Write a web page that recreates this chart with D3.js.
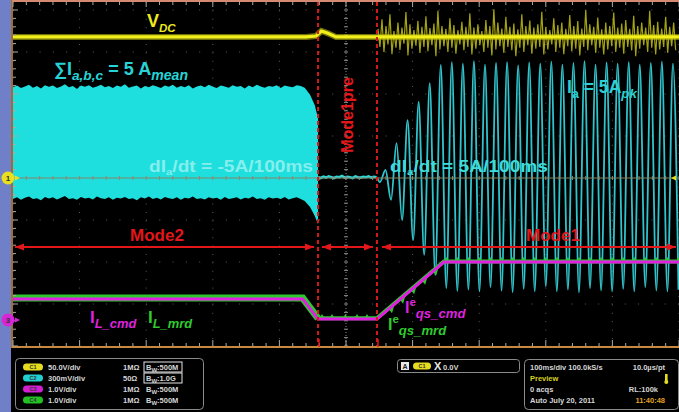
<!DOCTYPE html>
<html><head><meta charset="utf-8">
<script src="https://cdn.jsdelivr.net/npm/d3@7"></script>
<style>
html,body{margin:0;padding:0;background:#000;}
svg{display:block;}
text{font-family:"Liberation Sans",Arial,sans-serif;}
</style></head><body>
<svg id="scope" width="679" height="412"></svg>
<script>
// Time axis: ms across the screen, 100 ms/div, 10 divisions.
// Vertical axis: screen divisions, 0 at the centre graticule line.
const modeNames = ["Mode2", "Mode1pre", "Mode1"];
const modeBounds = [0, 458, 546.5, 1000];

// Ch1: DC-link voltage
const vdcTimes  = [0, 440, 455, 463, 472, 485, 546.5, 1000];
const vdcLevels = [3.36, 3.36, 3.38, 3.5, 3.45, 3.36, 3.36, 3.36];
const vdcNoiseStart = 548, vdcNoiseStep = 6;
const vdcNoiseHi = [3.55,3.78,3.62,3.9,3.5,3.7,3.58,3.95,3.66,3.52,3.74,3.6,3.85,3.57,3.68,3.98,3.62,3.55,3.8,3.64,3.52,3.72,3.6,3.92,3.58,3.66,3.5,3.76,3.62,4.02,3.7,3.56,3.84,3.6,3.68,3.54,3.9,3.62,3.75,3.58,3.66,3.96,3.6,3.52,3.8,3.64,3.7,3.55,3.88,3.62,3.74,3.56,4.0,3.66,3.6,3.82,3.54,3.7,3.62,3.94,3.58,3.68,3.76,3.55,3.86,3.62,3.7,3.58,3.98,3.64,3.72,3.56,3.84,3.6,3.7];
const vdcNoiseLo = [3.12,3.0,3.18,2.95,3.1,3.05,3.2,2.92,3.08,3.15,2.98,3.12,3.02,3.16,2.9,3.06,3.14,3.0,3.1,2.96,3.18,3.04,3.12,2.94,3.08,3.16,3.0,3.1,2.92,3.06,3.14,2.98,3.12,3.04,2.9,3.1,3.0,3.16,2.96,3.08,3.12,2.94,3.06,3.18,3.0,3.1,2.95,3.14,3.02,3.08,2.92,3.12,3.04,3.16,2.98,3.1,2.94,3.06,3.14,3.0,3.1,2.96,3.12,3.04,2.9,3.08,3.16,3.0,3.1,2.94,3.06,3.12,2.98,3.14,3.04];

// Ch2: phase current, Mode2 envelope (top / bottom of the dense waveform)
const bandStep = 6;
const bandTop = [2.16,2.2,2.14,2.18,2.22,2.15,2.19,2.13,2.21,2.17,2.2,2.14,2.18,2.23,2.16,2.19,2.12,2.2,2.17,2.21,2.15,2.18,2.22,2.16,2.19,2.14,2.2,2.17,2.23,2.15,2.18,2.2,2.13,2.19,2.16,2.21,2.18,2.14,2.2,2.17,2.22,2.15,2.19,2.16,2.21,2.13,2.18,2.2,2.16,2.22,2.17,2.14,2.2,2.18,2.15,2.21,2.17,2.19,2.13,2.2,2.16,2.22,2.18,2.15,2.19,2.17,2.21,2.14,2.2,2.18,2.16,2.21,2.19];
const bandBottom = [-0.5,-0.46,-0.52,-0.47,-0.44,-0.5,-0.48,-0.53,-0.45,-0.49,-0.46,-0.51,-0.47,-0.43,-0.5,-0.48,-0.52,-0.45,-0.49,-0.47,-0.51,-0.44,-0.48,-0.5,-0.46,-0.52,-0.47,-0.49,-0.45,-0.5,-0.48,-0.53,-0.46,-0.49,-0.44,-0.5,-0.47,-0.51,-0.45,-0.48,-0.5,-0.46,-0.52,-0.47,-0.49,-0.44,-0.5,-0.48,-0.51,-0.46,-0.49,-0.47,-0.52,-0.45,-0.5,-0.48,-0.46,-0.51,-0.47,-0.49,-0.44,-0.5,-0.48,-0.52,-0.46,-0.49,-0.47,-0.5,-0.45,-0.51,-0.48,-0.46,-0.5];
const taperTimes  = [438, 446, 453, 458];
const taperTop    = [2.15, 1.98, 1.74, 1.43];
const taperBottom = [-0.55, -0.69, -0.9, -1.1];

// Ch2 in Mode1pre: near-zero current
const preStart = 458, preStep = 4;
const preLevels = [0.02,0.0,0.03,0.01,0.04,0.02,0.0,0.03,0.02,0.05,0.01,0.03,0.02,0.0,0.04,0.02,0.01,0.03,0.02,0.04,0.01,0.03,0.02];

// Ch2 in Mode1: successive extremes of the 60 Hz current
const sineStart = 551, sineHalfPeriod = 8.3;
const sineExtremes = [-0.1,0.19,-0.52,0.83,-1.0,1.38,-1.48,1.81,-1.83,2.26,-2.31,2.69,-2.62,2.76,-2.69,2.72,-2.66,2.78,-2.7,2.7,-2.6,2.74,-2.68,2.76,-2.72,2.68,-2.64,2.75,-2.7,2.72,-2.58,2.77,-2.7,2.7,-2.66,2.74,-2.72,2.78,-2.62,2.7,-2.68,2.75,-2.7,2.72,-2.64,2.76,-2.7,2.7,-2.6,2.74,-2.68,2.77,-2.7,2.72,-2.66];

// Ch3 / Ch4: inductor-current command and measurement
const ilTimes = [0, 435, 458, 546.5, 647, 1000];
const ilCmd   = [-2.88, -2.88, -3.36, -3.36, -2.0, -2.0];
const ilMrd   = [-2.86, -2.86, -3.34, -3.34, -1.99, -1.99];
const preTeethTimes = [464, 479, 499, 516.5, 531.5];

// Graticule
const timeTicks = d3.range(0, 1001, 100);
const divTicks = d3.range(-4, 5, 1);

// Readout panel
const chanLabels = ["C1", "C2", "C3", "C4"];
const chanColors = ["#e6dc1e", "#22cfd0", "#d21fd2", "#22c222"];
const chanScales = ["50.0V/div", "300mV/div", "1.0V/div", "1.0V/div"];
const chanImped  = ["1MΩ", "50Ω", "1MΩ", "1MΩ"];
const chanBw     = ["500M", "1.0G", "500M", "500M"];

const svg = d3.select("#scope");
const x = d3.scaleLinear().domain([0, 1000]).range([13, 679]);
const y = d3.scaleLinear().domain([-4, 4]).range([346, 10]);

// background & frame strips
svg.append("rect").attr("width", 679).attr("height", 412).attr("fill", "#000");
svg.append("rect").attr("x", 0).attr("y", 0).attr("width", 11).attr("height", 412).attr("fill", "#7080c8");

// graticule dots
const grid = svg.append("g");
timeTicks.forEach(t => {
  if (t === 500) return;
  grid.append("line").attr("x1", x(t)).attr("x2", x(t)).attr("y1", 2).attr("y2", 346)
    .attr("stroke", "#5c5c5c").attr("stroke-width", 1).attr("stroke-dasharray", "1,7.4");
});
divTicks.forEach(d => {
  if (d === 0) return;
  grid.append("line").attr("x1", 13).attr("x2", 679).attr("y1", y(d)).attr("y2", y(d))
    .attr("stroke", "#5c5c5c").attr("stroke-width", 1).attr("stroke-dasharray", "1,12.3");
});

// Ch2 Mode2 band
const bandPts = bandTop.map((v, i) => ({t: i * bandStep, top: v, bot: bandBottom[Math.min(i, bandBottom.length - 1)]}))
  .concat(taperTimes.map((t, i) => ({t, top: taperTop[i], bot: taperBottom[i]})));
const area = d3.area().x(d => x(d.t)).y0(d => y(d.bot)).y1(d => y(d.top));
svg.append("path").datum(bandPts).attr("d", area).attr("fill", "#1fdede");

// Ch2 Mode1pre line
const prePts = preLevels.map((v, i) => [preStart + i * preStep, v]);
const line = d3.line().x(d => x(d[0])).y(d => y(d[1]));
svg.append("path").datum(prePts).attr("d", line).attr("fill", "none")
  .attr("stroke", "#2fd6d8").attr("stroke-width", 2.6);

// Ch2 Mode1 sinusoid
const sinePts = [[546.5, 0.02]].concat(sineExtremes.map((v, i) => [sineStart + i * sineHalfPeriod, v]));
svg.append("path").datum(sinePts).attr("d", d3.line().x(d => x(d[0])).y(d => y(d[1])).curve(d3.curveMonotoneX))
  .attr("fill", "none").attr("stroke", "#30c4cc").attr("stroke-width", 1.8);

// centre graticule lines with minor ticks
const cg = svg.append("g");
cg.append("line").attr("x1", 13).attr("x2", 679).attr("y1", y(0)).attr("y2", y(0))
  .attr("stroke", "#858566").attr("stroke-width", 1);
cg.append("line").attr("x1", x(500)).attr("x2", x(500)).attr("y1", 2).attr("y2", 346)
  .attr("stroke", "#8a8a8a").attr("stroke-width", 1).attr("stroke-dasharray", "1,2");
d3.range(0, 1001, 20).forEach(t => {
  cg.append("line").attr("x1", x(t)).attr("x2", x(t)).attr("y1", y(0) - 2).attr("y2", y(0) + 2)
    .attr("stroke", "#8a8a70").attr("stroke-width", 1);
});
d3.range(-4, 4.01, 0.2).forEach(d => {
  cg.append("line").attr("x1", x(500) - 2).attr("x2", x(500) + 2).attr("y1", y(d)).attr("y2", y(d))
    .attr("stroke", "#8a8a8a").attr("stroke-width", 1);
});

// Ch1 V_DC
const vg = svg.append("g");
let nd = "";
vdcNoiseHi.forEach((h, i) => {
  const t = vdcNoiseStart + i * vdcNoiseStep;
  nd += (i ? "L" : "M") + x(t) + "," + y(h) + "L" + x(t + vdcNoiseStep / 2) + "," + y(vdcNoiseLo[i]);
});
vg.append("path").attr("d", nd).attr("fill", "none").attr("stroke", "#c2c010").attr("stroke-width", 1.2).attr("opacity", 0.85);
const vdcPts = vdcTimes.map((t, i) => [t, vdcLevels[i]]);
vg.append("path").datum(vdcPts).attr("d", line).attr("fill", "none")
  .attr("stroke", "#bdbd10").attr("stroke-width", 6).attr("opacity", 0.6);
vg.append("path").datum(vdcPts).attr("d", line).attr("fill", "none")
  .attr("stroke", "#f2ef1a").attr("stroke-width", 3.2);

// Ch4 measured inductor current (green) and Ch3 command (magenta)
const mrdPts = ilTimes.map((t, i) => [t, ilMrd[i]]);
const cmdPts = ilTimes.map((t, i) => [t, ilCmd[i]]);
svg.append("path").datum(mrdPts.slice(0, 3)).attr("d", line).attr("fill", "none")
  .attr("stroke", "#2ec82e").attr("stroke-width", 7);
svg.append("path").datum(mrdPts.slice(2)).attr("d", line).attr("fill", "none")
  .attr("stroke", "#2ec82e").attr("stroke-width", 4);
const ilAt = t => y(d3.scaleLinear().domain(ilTimes).range(ilCmd)(t));
const teeth = svg.append("g").attr("fill", "#2ec82e");
const upTooth = t => { const px = x(t), py = ilAt(t); return `M${px-3},${py}L${px},${py-5}L${px+3},${py}Z`; };
const downTooth = t => { const px = x(t), py = ilAt(t); return `M${px-3},${py+1}L${px+1},${py+6}L${px+3},${py-1}Z`; };
preTeethTimes.forEach(t => teeth.append("path").attr("d", upTooth(t)));
sineExtremes.forEach((v, i) => {
  const t = sineStart + i * sineHalfPeriod;
  if (i % 2 !== 0) return;
  if (t > 647) teeth.append("path").attr("d", upTooth(t));
  else if (t > 560) teeth.append("path").attr("d", downTooth(t));
});
svg.append("path").datum(cmdPts).attr("d", line).attr("fill", "none")
  .attr("stroke", "#e21ee2").attr("stroke-width", 3);

// mode boundaries
const red = "#e3161a";
[modeBounds[1], modeBounds[2]].forEach(t => {
  svg.append("line").attr("x1", x(t)).attr("x2", x(t)).attr("y1", 2).attr("y2", 346)
    .attr("stroke", "#d31a1a").attr("stroke-width", 2).attr("stroke-dasharray", "4,3");
});
// mode arrows
const arrowY = 247;
const ag = svg.append("g");
function arrowHead(px, dir) {
  ag.append("path").attr("d", `M${px},${arrowY}L${px - dir * 9},${arrowY - 3.5}L${px - dir * 9},${arrowY + 3.5}Z`).attr("fill", red);
}
const arrowPad = [[2, -4], [4, -4], [5, -3]];
modeNames.forEach((m, i) => {
  const a = x(modeBounds[i]) + arrowPad[i][0], b = x(modeBounds[i + 1]) + arrowPad[i][1];
  ag.append("line").attr("x1", a).attr("x2", b).attr("y1", arrowY).attr("y2", arrowY).attr("stroke", red).attr("stroke-width", 2);
  arrowHead(a, -1); arrowHead(b, 1);
});
svg.append("text").attr("x", 157).attr("y", 241).attr("text-anchor", "middle").attr("font-size", 17)
  .attr("font-weight", "bold").attr("fill", red).text(modeNames[0]);
svg.append("text").attr("x", 553).attr("y", 241).attr("text-anchor", "middle").attr("font-size", 17)
  .attr("font-weight", "bold").attr("fill", red).text(modeNames[2]);
svg.append("text").attr("transform", "translate(353,115) rotate(-90)").attr("text-anchor", "middle")
  .attr("font-size", 16).attr("font-weight", "bold").attr("fill", red).text(modeNames[1]);

// labels with sub/superscripts
function rich(px, py, size, color, parts, len) {
  const t = svg.append("text").attr("x", px).attr("y", py).attr("fill", color)
    .attr("font-size", size).attr("font-weight", "bold");
  if (len) t.attr("textLength", len).attr("lengthAdjust", "spacingAndGlyphs");
  let cur = 0;
  parts.forEach(p => {
    const off = p.sub ? size * (p.d || 0.3) : p.sup ? -size * 0.42 : 0;
    const ts = t.append("tspan").text(p.s).attr("dy", off - cur);
    if (p.sub || p.sup) ts.attr("font-size", size * (p.k || 0.68));
    if (p.it) ts.attr("font-style", "italic");
    cur = off;
  });
  return t;
}
rich(147, 27, 18, "#eeea1c", [{s: "V"}, {s: "DC", sub: 1, it: 1, k: 0.64}]);
rich(54, 75, 18, "#27d3d6", [{s: "∑I"}, {s: "a,b,c", sub: 1, it: 1, k: 0.76}, {s: " = 5 A"}, {s: "mean", sub: 1, it: 1, k: 0.78}], 134);
rich(149, 172, 16.5, "#86efee", [{s: "dI"}, {s: "a", sub: 1, d: 0.2, k: 0.6}, {s: "/dt = -5A/100ms"}], 164);
rich(390, 172, 16.5, "#3fdbdc", [{s: "dI"}, {s: "a", sub: 1, d: 0.2, k: 0.6}, {s: "/dt = 5A/100ms"}], 158);
rich(567, 93, 17.5, "#2fcfd4", [{s: "I"}, {s: "a", sub: 1, k: 0.7}, {s: " = 5A"}, {s: "pk", sub: 1, it: 1, k: 0.76}], 70);
rich(90, 323, 17, "#df22df", [{s: "I"}, {s: "L_cmd", sub: 1, it: 1, k: 0.76}]);
rich(148, 323, 17, "#2fcb2f", [{s: "I"}, {s: "L_mrd", sub: 1, it: 1, k: 0.76}]);
rich(405, 313, 16, "#df22df", [{s: "I"}, {s: "e", sup: 1, k: 0.72}, {s: "qs_cmd", sub: 1, it: 1, k: 0.82}]);
rich(388, 330, 16, "#2fcb2f", [{s: "I"}, {s: "e", sup: 1, k: 0.72}, {s: "qs_mrd", sub: 1, it: 1, k: 0.82}]);

// screen borders and ticks
const bd = svg.append("g");
bd.append("line").attr("x1", 12).attr("x2", 679).attr("y1", 1).attr("y2", 1).attr("stroke", "#d48a72").attr("stroke-width", 2);
bd.append("line").attr("x1", 12).attr("x2", 12).attr("y1", 0).attr("y2", 348).attr("stroke", "#c8883e").attr("stroke-width", 1.6);
bd.append("line").attr("x1", 12).attr("x2", 679).attr("y1", 347).attr("y2", 347).attr("stroke", "#c8883e").attr("stroke-width", 2);
d3.range(-4, 4.3, 0.2).forEach(d => {
  if (y(d) < 3) return;
  bd.append("line").attr("x1", 13).attr("x2", Math.abs(d - Math.round(d)) < 0.01 ? 18 : 16).attr("y1", y(d)).attr("y2", y(d))
    .attr("stroke", "#a9a9a9").attr("stroke-width", 1);
});
d3.range(0, 1001, 20).forEach(t => {
  const major = t % 100 === 0;
  bd.append("line").attr("x1", x(t)).attr("x2", x(t)).attr("y1", 346).attr("y2", major ? 340 : 343)
    .attr("stroke", "#a9a9a9").attr("stroke-width", 1);
  bd.append("line").attr("x1", x(t)).attr("x2", x(t)).attr("y1", 2).attr("y2", major ? 7 : 5)
    .attr("stroke", "#a9a9a9").attr("stroke-width", 1);
});
[modeBounds[1], modeBounds[2]].forEach(t => {
  bd.append("line").attr("x1", x(t) + 1).attr("x2", x(t) + 1).attr("y1", 347).attr("y2", 339)
    .attr("stroke", "#e01818").attr("stroke-width", 1.5);
});

// channel ground markers
function marker(py, color, label) {
  svg.append("circle").attr("cx", 8).attr("cy", py).attr("r", 6.5).attr("fill", color);
  svg.append("text").attr("x", 8).attr("y", py + 3).attr("text-anchor", "middle").attr("font-size", 8)
    .attr("font-weight", "bold").attr("fill", "#333").text(label);
  svg.append("path").attr("d", `M15,${py - 2.5}L20,${py}L15,${py + 2.5}Z`).attr("fill", color);
}
marker(y(0), "#e8e01e", "1");
marker(y(-3.38), "#d825d8", "3");
svg.append("path").attr("d", `M676,${y(0) - 2.5}L671,${y(0)}L676,${y(0) + 2.5}Z`).attr("fill", "#e8e01e");

// readout panel
const pn = svg.append("g").attr("font-weight", "bold").attr("font-size", 7.5).attr("fill", "#d6d6d6");
pn.append("rect").attr("x", 15.5).attr("y", 358.5).attr("width", 188).attr("height", 51).attr("rx", 4)
  .attr("fill", "#000").attr("stroke", "#8a8a8a");
chanLabels.forEach((c, i) => {
  const cy = 367 + i * 11;
  pn.append("rect").attr("x", 23).attr("y", cy - 3.5).attr("width", 20).attr("height", 7).attr("rx", 3.5).attr("fill", chanColors[i]);
  pn.append("text").attr("x", 33).attr("y", cy + 2).attr("text-anchor", "middle").attr("font-size", 5.5).attr("fill", "#333").text(c);
  pn.append("text").attr("x", 48).attr("y", cy + 3).text(chanScales[i]);
  pn.append("text").attr("x", 123).attr("y", cy + 3).text(chanImped[i]);
  if (i < 2) pn.append("rect").attr("x", 144).attr("y", cy - 5).attr("width", 38).attr("height", 10)
    .attr("fill", "#000").attr("stroke", "#e6e6e6").attr("stroke-width", 1);
  const bw = pn.append("text").attr("x", 146).attr("y", cy + 3);
  bw.append("tspan").text("B");
  bw.append("tspan").attr("font-size", 6).attr("dy", 2).text("W");
  bw.append("tspan").attr("dy", -2).text(":" + chanBw[i]);
});
pn.append("rect").attr("x", 397.5).attr("y", 359.5).attr("width", 122).attr("height", 13).attr("rx", 3)
  .attr("fill", "#000").attr("stroke", "#8a8a8a");
pn.append("rect").attr("x", 401).attr("y", 362).attr("width", 8).attr("height", 8).attr("fill", "#e8e8e8");
pn.append("text").attr("x", 405).attr("y", 369).attr("text-anchor", "middle").attr("font-size", 7).attr("fill", "#222").text("A");
pn.append("rect").attr("x", 413).attr("y", 362.5).attr("width", 18).attr("height", 7).attr("rx", 3.5).attr("fill", chanColors[0]);
pn.append("text").attr("x", 422).attr("y", 368).attr("text-anchor", "middle").attr("font-size", 5.5).attr("fill", "#333").text("C1");
pn.append("text").attr("x", 434).attr("y", 370).attr("font-size", 11).attr("fill", "#e6e6e6").text("X");
pn.append("text").attr("x", 443).attr("y", 369.5).text("0.0V");
pn.append("rect").attr("x", 524.5).attr("y", 359.5).attr("width", 154).attr("height", 50).attr("rx", 4)
  .attr("fill", "#000").attr("stroke", "#8a8a8a");
pn.append("text").attr("x", 530).attr("y", 370).text("100ms/div  100.0kS/s");
pn.append("text").attr("x", 665).attr("y", 370).attr("text-anchor", "end").text("10.0µs/pt");
pn.append("text").attr("x", 530).attr("y", 381).attr("fill", "#d8d020").text("Preview");
pn.append("rect").attr("x", 665).attr("y", 374).attr("width", 2.6).attr("height", 7).attr("fill", "#e6dc1e");
pn.append("circle").attr("cx", 666.3).attr("cy", 382).attr("r", 2).attr("fill", "#e6dc1e");
pn.append("text").attr("x", 530).attr("y", 392).text("0 acqs");
pn.append("text").attr("x", 658).attr("y", 392).attr("text-anchor", "end").text("RL:100k");
pn.append("text").attr("x", 530).attr("y", 403).text("Auto    July 20, 2011");
pn.append("text").attr("x", 665).attr("y", 403).attr("text-anchor", "end").attr("fill", "#e0a024").text("11:40:48");
</script>
</body></html>
